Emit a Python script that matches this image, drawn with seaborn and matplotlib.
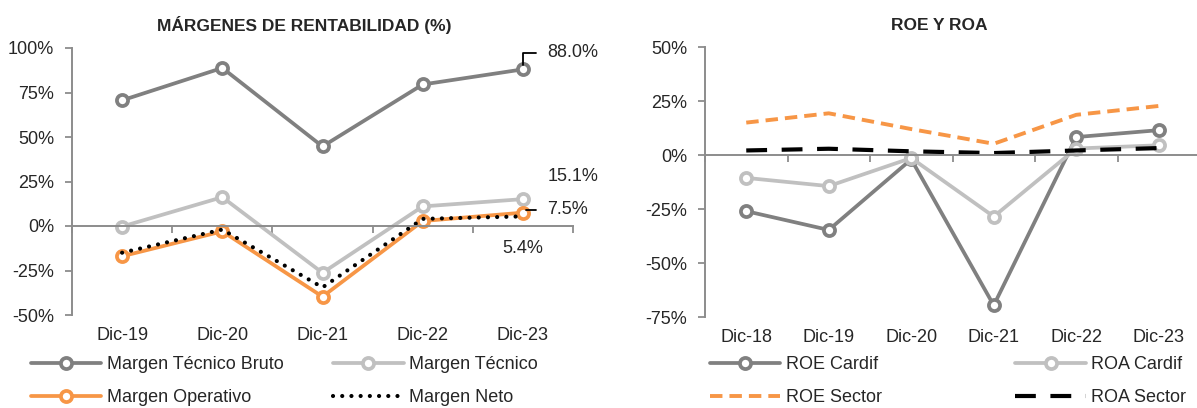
import numpy as np
import pandas as pd
import matplotlib
matplotlib.use("Agg")
import matplotlib.pyplot as plt
import seaborn as sns
from matplotlib.ticker import FuncFormatter

# Data (values in %)
years_m = ["Dic-19", "Dic-20", "Dic-21", "Dic-22", "Dic-23"]
bruto = [70.6, 88.8, 44.7, 79.5, 88.0]
tecnico = [-0.3, 16.2, -26.3, 11.0, 15.1]
operativo = [-17.0, -3.0, -39.7, 2.8, 7.5]
neto = [-15.0, -2.0, -34.5, 4.0, 5.4]

years_r = ["Dic-18", "Dic-19", "Dic-20", "Dic-21", "Dic-22", "Dic-23"]
roe_cardif = [-26.0, -34.7, -2.0, -69.6, 8.3, 11.5]
roa_cardif = [-10.6, -14.4, -1.4, -28.5, 3.0, 4.5]
roe_sector = [15.0, 19.3, 12.0, 5.2, 18.6, 22.7]
roa_sector = [2.1, 2.9, 1.7, 0.9, 2.1, 3.2]

DARK = "#808080"
LIGHT = "#c0c0c0"
ORANGE = "#f79646"
AXIS = "#8c8c8c"
FS = 13

sns.set_style("white")
plt.rcParams['font.family'] = ['Liberation Sans', 'DejaVu Sans']
plt.rcParams['font.size'] = FS

fig = plt.figure(figsize=(11.97, 4.08), dpi=100)
ax1 = fig.add_axes([72 / 1197, 1 - 315 / 408, 501 / 1197, 267 / 408])
ax2 = fig.add_axes([705 / 1197, 1 - 317 / 408, 495 / 1197, 270 / 408])


def marker_line(ax, x, y, color, label):
    sns.lineplot(x=x, y=y, ax=ax, color=color, lw=2.7, marker="o", ms=8,
                 mfc="white", mec=color, mew=2.7, label=label, sort=False)


def style_axes(ax, cats, ylim, step):
    n = len(cats)
    ax.set_xlim(-0.5, n - 0.5)
    ax.set_ylim(*ylim)
    ax.set_yticks(np.arange(ylim[0], ylim[1] + 1, step))
    ax.yaxis.set_major_formatter(FuncFormatter(lambda v, p: f"{v:.0f}%"))
    ax.tick_params(axis="y", direction="out", length=5, width=1.3, color=AXIS,
                   pad=8, labelsize=FS, left=True)
    for s in ["top", "right"]:
        ax.spines[s].set_visible(False)
    ax.spines["left"].set_color(AXIS)
    ax.spines["left"].set_linewidth(1.4)
    # zero line with boundary ticks
    ax.spines["bottom"].set_position(("data", 0))
    ax.spines["bottom"].set_color(AXIS)
    ax.spines["bottom"].set_linewidth(1.4)
    ax.set_xticks(np.arange(n + 1) - 0.5)
    ax.set_xticklabels([])
    ax.tick_params(axis="x", direction="out", length=5, width=1.3, color=AXIS,
                   bottom=True)
    # category labels at the bottom
    sec = ax.secondary_xaxis(0.0)
    sec.set_xticks(np.arange(n), labels=cats)
    sec.tick_params(length=0, pad=9, labelsize=FS)
    sec.spines["bottom"].set_visible(False)
    ax.set_xlabel("")
    ax.set_ylabel("")


# ---- left chart
x1 = np.arange(len(years_m))
marker_line(ax1, x1, bruto, DARK, "Margen Técnico Bruto")
marker_line(ax1, x1, tecnico, LIGHT, "Margen Técnico")
marker_line(ax1, x1, operativo, ORANGE, "Margen Operativo")
sns.lineplot(x=x1, y=neto, ax=ax1, color="black", lw=3.0,
             linestyle=(0, (0.01, 2.2)), dash_capstyle="round",
             label="Margen Neto", sort=False)
style_axes(ax1, years_m, (-50, 100), 25)

last = len(years_m) - 1
leader = dict(arrowstyle="-", color="black", lw=1.3,
              connectionstyle="angle,angleA=0,angleB=90,rad=0",
              shrinkA=6, shrinkB=3)
ax1.annotate(f"{bruto[-1]:.1f}%", xy=(last, bruto[-1]), xytext=(17.5, 12),
             textcoords="offset points", ha="left", va="center", fontsize=FS,
             arrowprops=leader)
ax1.annotate(f"{tecnico[-1]:.1f}%", xy=(last, tecnico[-1]), xytext=(17.5, 16.5),
             textcoords="offset points", ha="left", va="center", fontsize=FS)
ax1.annotate(f"{operativo[-1]:.1f}%", xy=(last, operativo[-1]), xytext=(17.5, 2),
             textcoords="offset points", ha="left", va="center", fontsize=FS,
             arrowprops=leader)
ax1.annotate(f"{neto[-1]:.1f}%", xy=(last, neto[-1]), xytext=(0, -23),
             textcoords="offset points", ha="center", va="center", fontsize=FS)

h, l = ax1.get_legend_handles_labels()
order = [0, 2, 1, 3]
ax1.legend([h[i] for i in order], [l[i] for i in order], ncol=2,
           loc="upper left", bbox_to_anchor=(31 / 1197, 1 - 356 / 408),
           bbox_transform=fig.transFigure, frameon=False, fontsize=FS,
           handlelength=3.9, handletextpad=0.3, columnspacing=2.75,
           labelspacing=0.9, borderpad=0, borderaxespad=0)

# ---- right chart
x2 = np.arange(len(years_r))
marker_line(ax2, x2, roe_cardif, DARK, "ROE Cardif")
marker_line(ax2, x2, roa_cardif, LIGHT, "ROA Cardif")
sns.lineplot(x=x2, y=roe_sector, ax=ax2, color=ORANGE, lw=2.8,
             linestyle=(0, (3.2, 1.8)), label="ROE Sector", sort=False)
sns.lineplot(x=x2, y=roa_sector, ax=ax2, color="black", lw=3.0,
             linestyle=(0, (5, 3.5)), label="ROA Sector", sort=False)
style_axes(ax2, years_r, (-75, 50), 25)

h, l = ax2.get_legend_handles_labels()
ax2.legend([h[i] for i in order], [l[i] for i in order], ncol=2,
           loc="upper left", bbox_to_anchor=(710 / 1197, 1 - 356 / 408),
           bbox_transform=fig.transFigure, frameon=False, fontsize=FS,
           handlelength=3.9, handletextpad=0.3, columnspacing=7.4,
           labelspacing=0.9, borderpad=0, borderaxespad=0)

fig.text(304 / 1197, 1 - 25 / 408, "MÁRGENES DE RENTABILIDAD (%)",
         ha="center", va="center", fontsize=FS - 0.5, fontweight="bold")
fig.text(939 / 1197, 1 - 25 / 408, "ROE Y ROA",
         ha="center", va="center", fontsize=FS - 0.5, fontweight="bold")

fig.savefig("out.png", dpi=100)
